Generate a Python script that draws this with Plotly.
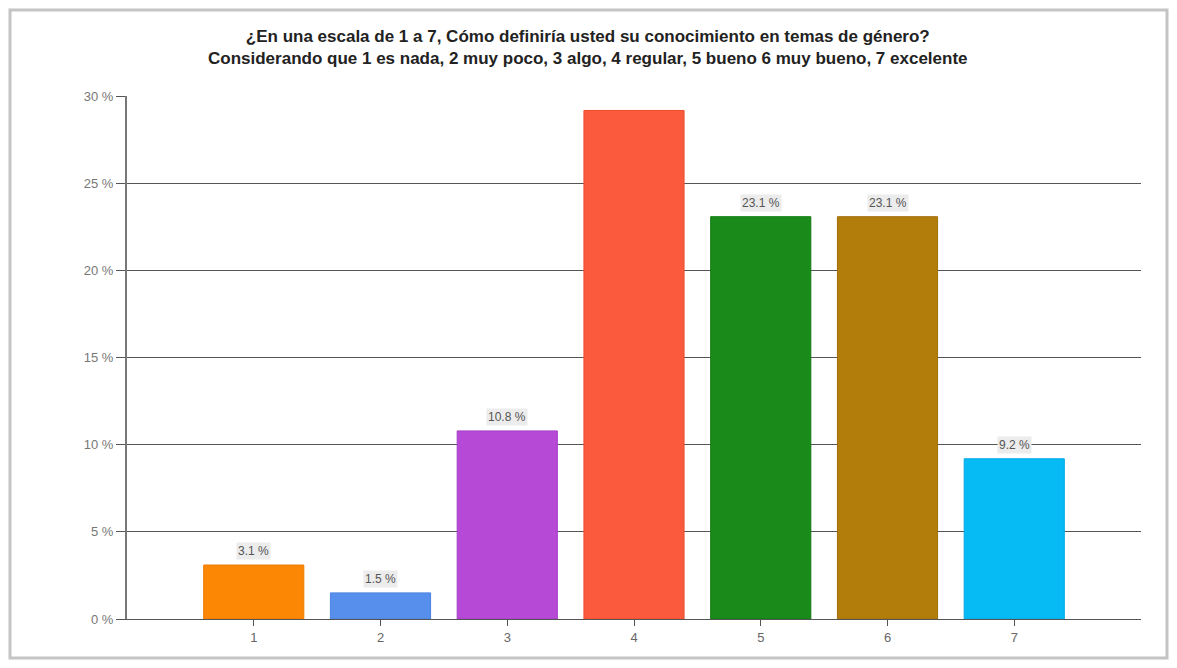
import plotly.graph_objects as go

categories = ["1", "2", "3", "4", "5", "6", "7"]
values = [3.1, 1.5, 10.8, 29.2, 23.1, 23.1, 9.2]
labels = ["3.1 %", "1.5 %", "10.8 %", "", "23.1 %", "23.1 %", "9.2 %"]
colors = ["#fb8705", "#5690ec", "#b649d6", "#fb5a3c", "#1a8a1a", "#b37d0c", "#06baf4"]
line_colors = ["#f07c00", "#4a82e0", "#a53dc6", "#ec4d30", "#0f7a0f", "#a06e08", "#02a8e4"]
ytick_vals = [0, 5, 10, 15, 20, 25, 30]
ytick_text = ["0 %", "5 %", "10 %", "15 %", "20 %", "25 %", "30 %"]
title_lines = [
    "¿En una escala de 1 a 7, Cómo definiría usted su conocimiento en temas de género?",
    "Considerando que 1 es nada, 2 muy poco, 3 algo, 4 regular, 5 bueno 6 muy bueno, 7 excelente",
]

# page body has an 8px margin; figure placed at (8, 8)
W, H = 1161, 652
L, T = 119, 88
R = W - (1141 - 8)
B = H - (619 - 8)
pw, ph = W - L - R, H - T - B

fig = go.Figure()
fig.add_trace(go.Bar(
    x=categories, y=values, width=0.79,
    marker=dict(color=colors, line=dict(color=line_colors, width=1)),
    hoverinfo="x+y",
))

annotations = []
for i, (v, t) in enumerate(zip(values, labels)):
    if t:
        annotations.append(dict(
            x=i, y=v, xref="x", yref="y", text=t, showarrow=False,
            yanchor="bottom", yshift=5, bgcolor="#ececec",
            font=dict(family="Liberation Sans, Arial", size=12, color="#555555"),
            borderpad=1,
        ))
annotations.append(dict(
    x=(588 - 8 - L) / pw, y=1 + (T - 40) / ph, xref="paper", yref="paper",
    yanchor="middle", xanchor="center", showarrow=False,
    text="<b>" + title_lines[0] + "</b><br><b>" + title_lines[1] + "</b>",
    font=dict(family="Liberation Sans, Arial", size=17, color="#222222"),
))

shapes = [dict(
    type="rect", xref="paper", yref="paper",
    x0=(2 - L) / pw, x1=(W - 2 - L) / pw,
    y0=-(B - 2) / ph, y1=1 + (T - 2) / ph,
    line=dict(color="#c4c4c4", width=3), layer="below",
)]

fig.update_layout(
    width=W, height=H,
    margin=dict(l=L, r=R, t=T, b=B),
    paper_bgcolor="white", plot_bgcolor="white",
    showlegend=False,
    annotations=annotations,
    shapes=shapes,
    xaxis=dict(
        type="category", range=[-1, 7], showgrid=False,
        showline=True, linecolor="#555555", linewidth=1,
        ticks="outside", ticklen=6, tickcolor="#555555",
        tickfont=dict(family="Liberation Sans, Arial", size=13, color="#666666"),
        zeroline=False, fixedrange=True,
    ),
    yaxis=dict(
        range=[0, 30.03], tickvals=ytick_vals, ticktext=ytick_text,
        showgrid=True, gridcolor="#555555", gridwidth=1,
        showline=True, linecolor="#777777", linewidth=2,
        ticks="outside", ticklen=9, tickcolor="#555555",
        tickfont=dict(family="Liberation Sans, Arial", size=13, color="#777777"),
        zeroline=False, fixedrange=True,
    ),
)

fig.write_html("out.html")
